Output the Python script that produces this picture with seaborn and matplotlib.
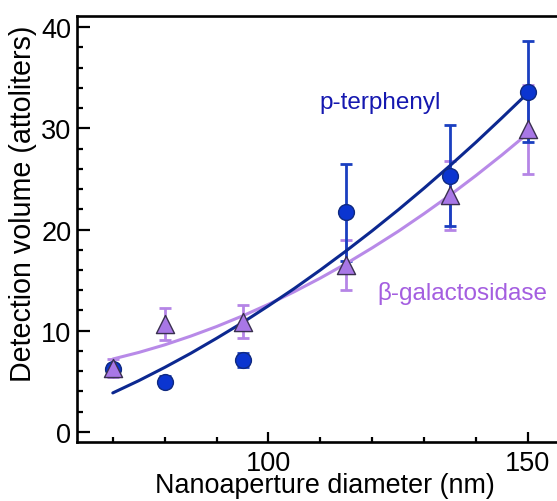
import numpy as np
import pandas as pd
import matplotlib
matplotlib.use("Agg")
import matplotlib.pyplot as plt
import seaborn as sns
from matplotlib.ticker import MultipleLocator

# ---- data ----
diam = [70, 80, 95, 115, 135, 150]
pter_vol = [6.2, 4.97, 7.1, 21.7, 25.3, 33.6]
pter_err = [0.5, 0.57, 0.65, 4.8, 5.0, 5.0]
bgal_vol = [6.3, 10.67, 10.9, 16.5, 23.4, 29.9]
bgal_err = [0.9, 1.57, 1.6, 2.45, 3.4, 4.4]

fit_x = [70, 75, 80, 85, 90, 95, 100, 105, 110, 115, 120, 125, 130, 135, 140, 145, 150]
pter_fit = [3.85, 5.06, 6.37, 7.76, 9.25, 10.8, 12.46, 14.18, 16.0, 17.9, 19.88,
            21.94, 24.09, 26.32, 28.63, 31.04, 33.5]
bgal_fit = [7.2, 7.85, 8.6, 9.46, 10.41, 11.46, 12.61, 13.86, 15.2, 16.64, 18.19,
            19.82, 21.57, 23.4, 25.34, 27.37, 29.5]

x_label = "Nanoaperture diameter (nm)"
y_label = "Detection volume (attoliters)"
label_pter = "p-terphenyl"
label_bgal = "β-galactosidase"

# ---- style ----
sns.set_style("ticks")
plt.rcParams['font.family'] = ['Liberation Sans', 'DejaVu Sans']

blue_pt = "#0b35d0"
blue_err = "#1a3fc0"
blue_line = "#0c2890"
purple_pt = "#a877e6"
purple_err = "#b585e6"
purple_line = "#b88ae8"
purple_txt = "#a45ee0"
blue_txt = "#1518b0"

fig = plt.figure(figsize=(5.57, 5.02), dpi=100)
ax = fig.add_axes([77 / 557, 59 / 502, 1 - 77 / 557, (443 - 17) / 502])

pts = pd.DataFrame({"d": diam * 2,
                    "v": pter_vol + bgal_vol,
                    "s": ["p"] * len(diam) + ["b"] * len(diam)})
fits = pd.DataFrame({"d": fit_x * 2,
                     "v": pter_fit + bgal_fit,
                     "s": ["p"] * len(fit_x) + ["b"] * len(fit_x)})

# error bars
ax.errorbar(diam, bgal_vol, yerr=bgal_err, fmt="none", ecolor=purple_err,
            elinewidth=2.0, capsize=4.5, capthick=2.0, zorder=2)
ax.errorbar(diam, pter_vol, yerr=pter_err, fmt="none", ecolor=blue_err,
            elinewidth=2.0, capsize=4.5, capthick=2.0, zorder=2)

# fit lines
sns.lineplot(data=fits[fits.s == "b"], x="d", y="v", color=purple_line, lw=2.2,
             ax=ax, zorder=3, legend=False)
sns.lineplot(data=fits[fits.s == "p"], x="d", y="v", color=blue_line, lw=2.2,
             ax=ax, zorder=4, legend=False)

# markers
sns.scatterplot(data=pts[pts.s == "p"], x="d", y="v", marker="o", s=130,
                color=blue_pt, edgecolor="#102a80", linewidth=1.0, ax=ax,
                zorder=5, legend=False)
sns.scatterplot(data=pts[pts.s == "b"], x="d", y="v", marker="^", s=170,
                color=purple_pt, edgecolor="#3a3050", linewidth=1.0, ax=ax,
                zorder=6, legend=False)

ax.text(109.8, 32.6, label_pter, color=blue_txt, fontsize=17.5, va="center", ha="left")
ax.text(120.9, 13.8, label_bgal, color=purple_txt, fontsize=17.5, va="center", ha="left")

ax.set_xlim(63.1, 155.6)
ax.set_ylim(-1.0, 41.1)
ax.xaxis.set_major_locator(MultipleLocator(50))
ax.xaxis.set_minor_locator(MultipleLocator(10))
ax.yaxis.set_major_locator(MultipleLocator(10))
ax.yaxis.set_minor_locator(MultipleLocator(2))

ax.tick_params(which="both", direction="in", width=1.6, colors="black",
               top=False, right=False, labelsize=19.5)
ax.tick_params(axis="x", which="major", length=7.5, pad=5.5)
ax.tick_params(axis="x", which="minor", length=3.8)
ax.tick_params(axis="y", which="major", length=9.5, pad=4)
ax.tick_params(axis="y", which="minor", length=4.3)

for side in ["left", "bottom", "top"]:
    ax.spines[side].set_linewidth(1.9)
    ax.spines[side].set_color("black")
ax.spines["right"].set_visible(False)

ax.set_xlabel(x_label, fontsize=19.4, color="black")
ax.set_ylabel(y_label, fontsize=20.6, color="black")
ax.xaxis.set_label_coords(0.517, -0.071)
ax.yaxis.set_label_coords(-0.083, 0.561)

fig.savefig("out.png", dpi=100)
